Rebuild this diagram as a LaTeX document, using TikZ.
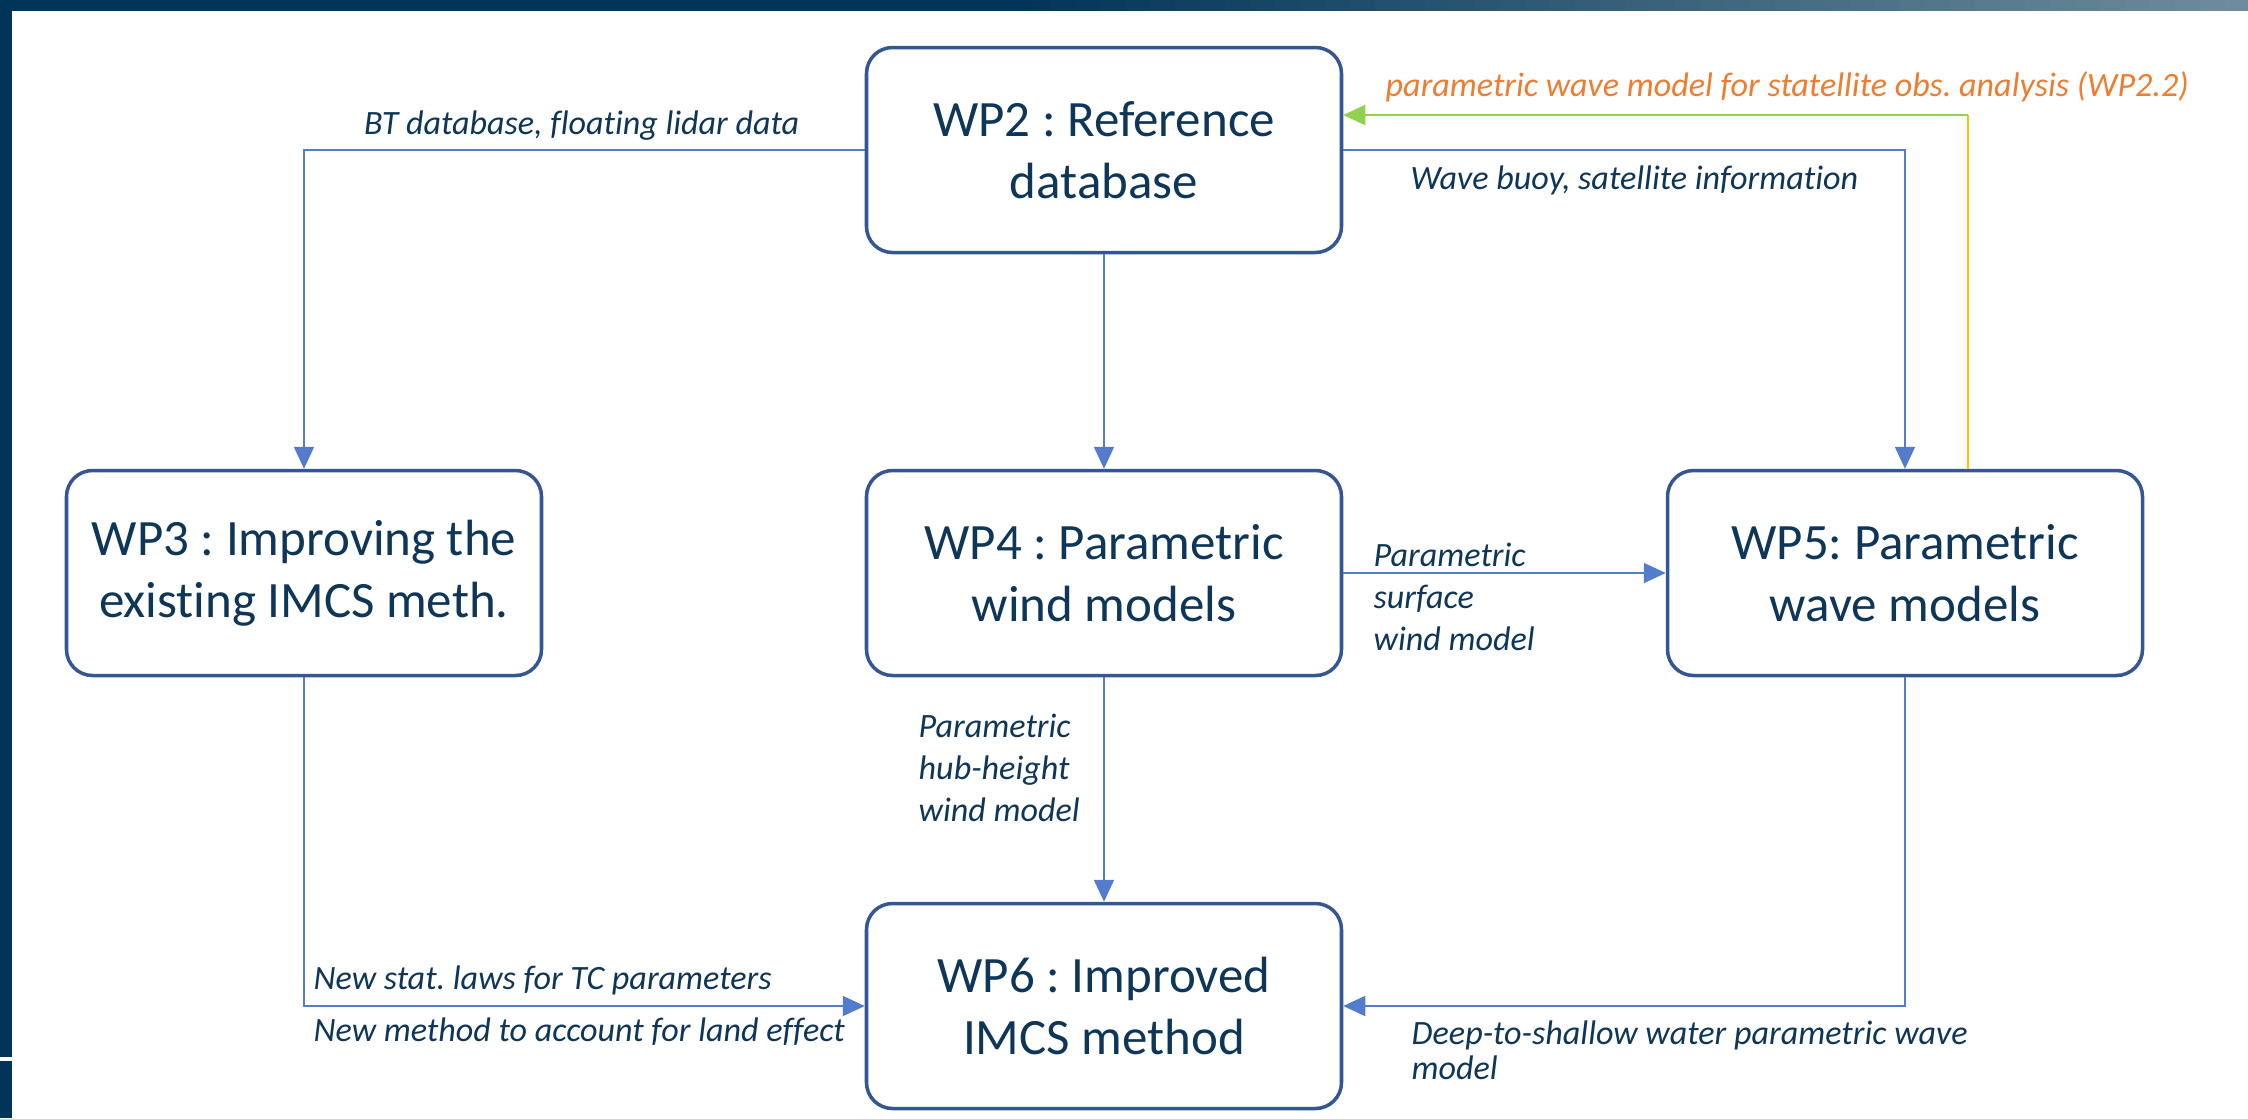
\documentclass[tikz,border=0pt]{standalone}
\usepackage{fontspec}
\setmainfont{Carlito}[Ligatures=NoCommon]
\usetikzlibrary{arrows.meta}

\definecolor{navy}{RGB}{14,54,88}
\definecolor{boxblue}{RGB}{52,86,148}
\definecolor{lineblue}{RGB}{84,124,204}
\definecolor{arrowgreen}{RGB}{146,208,80}
\definecolor{lineyellow}{RGB}{255,192,0}
\definecolor{textorange}{RGB}{237,125,49}
\definecolor{barblue}{RGB}{0,52,88}
\definecolor{bargrey}{RGB}{112,142,156}

\begin{document}
\frenchspacing
\begin{tikzpicture}
  [
    x=0.1mm, y=-0.1mm,
    >={Triangle[length=2.2mm, width=2mm]},
    wp/.style   = {draw=boxblue, line width=1pt, rounded corners=2.6mm, fill=white,
                   minimum width=47.5mm, minimum height=20.5mm, align=center,
                   text=navy, font=\fontsize{14.5}{17.5}\selectfont},
    link/.style = {draw=lineblue, line width=0.6pt},
    info/.style = {text=navy, font=\fontsize{9.7}{12}\selectfont\itshape, align=left, inner sep=0pt},
  ]

%Page frame: dark bars on top and on the left
\useasboundingbox (0,0) rectangle (2248,1118);
\fill[barblue] (0,0) rectangle (1001,11);
%Fading part of the top bar
\def \barstep{25}
\foreach \i in {0,...,49}
{
\pgfmathsetmacro{\mix}{100-2*\i}
\fill[barblue!\mix!bargrey] (1000+\i*\barstep,0) rectangle (1001+\i*\barstep+\barstep,11);
}
\fill[barblue] (0,11) rectangle (12,1057);
\fill[barblue] (0,1061) rectangle (12,1118);

%Columns and rows of the work packages
\def \xl{304}
\def \xm{1104}
\def \xr{1905}
\def \ytop{150}
\def \ymid{573}
\def \ybot{1006}

\node[wp] (wp2) at (\xm,\ytop) {WP2 : Reference\\database};
\node[wp] (wp3) at (\xl,\ymid) {WP3 : Improving the\\existing IMCS meth.};
\node[wp] (wp4) at (\xm,\ymid) {WP4 : Parametric\\wind models};
\node[wp] (wp5) at (\xr,\ymid) {WP5: Parametric\\wave models};
\node[wp] (wp6) at (\xm,\ybot) {WP6 : Improved\\IMCS method};

%Connectors
\draw[link,->] (wp2.west) -| (wp3.north);
\draw[link,->] (wp2.east) -| (wp5.north);
\draw[link,->] (wp2) -- (wp4);
\draw[link,->] (wp4) -- (wp5);
\draw[link,->] (wp4) -- (wp6);
\draw[link,->] (wp3.south) |- (wp6.west);
\draw[link,->] (wp5.south) |- (wp6.east);

%Feedback from WP5 to WP2
\coordinate (fb) at (1968,115);
\draw[lineyellow, line width=0.6pt] (wp5.north -| fb) -- (fb);
\draw[arrowgreen, line width=0.6pt, ->] (fb) -- (fb -| wp2.east);

%Labels
\node[info, anchor=east] (lbt) at (800,126) {BT database, floating lidar data};
\node[info, anchor=west] (lwave) at (1410,180) {Wave buoy, satellite information};
\node[info, anchor=west, text=textorange] (lsat) at (1385,87) {parametric wave model for statellite obs. analysis (WP2.2)};
\node[info, anchor=west] (lsurf) at (1373,597) {Parametric\\surface\\wind model};
\node[info, anchor=west] (lhub) at (918,768) {Parametric\\hub-height\\wind model};
\node[info, anchor=west] (lstat) at (313,980) {New stat. laws for TC parameters};
\node[info, anchor=west] (lland) at (313,1032) {New method to account for land effect};
\node[info, anchor=west, font=\fontsize{9.7}{10}\selectfont\itshape] (ldeep) at (1411,1050) {Deep-to-shallow water parametric wave\\model};
\end{tikzpicture}
\end{document}
